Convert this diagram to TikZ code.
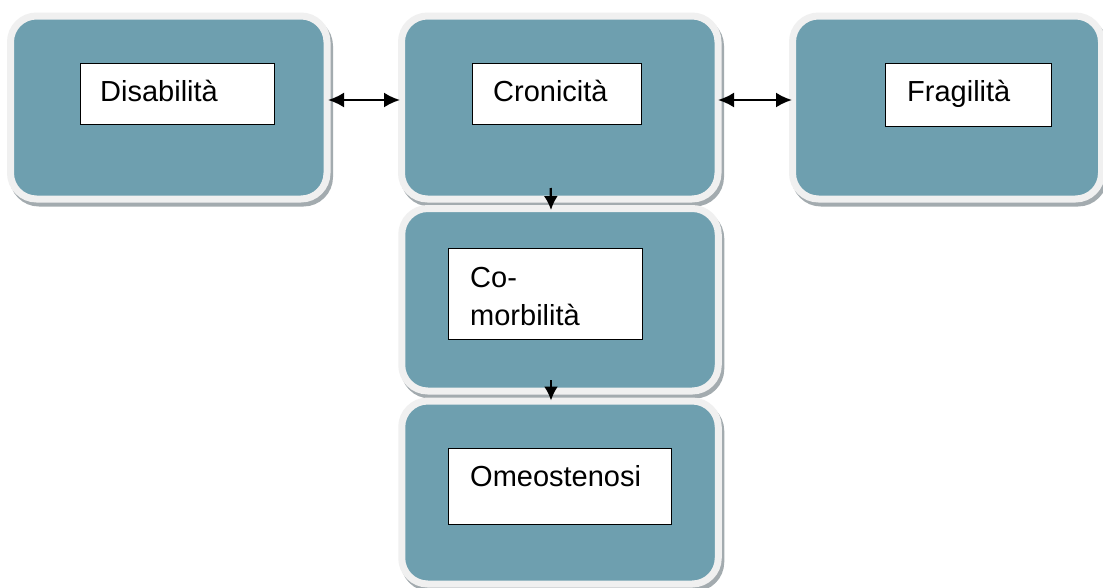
\documentclass[tikz,border=0pt]{standalone}
\usepackage{fontspec}
\setmainfont{Liberation Sans}
\usetikzlibrary{shadows,arrows.meta}
\definecolor{tealbox}{HTML}{6E9FAF}
\definecolor{rim}{HTML}{F0F0F0}
\definecolor{shade}{HTML}{A3ABAF}
\tikzset{
  outerbox/.style={rectangle, rounded corners=26pt, fill=tealbox, draw=rim, line width=7pt,
    minimum width=316.5pt, minimum height=183pt, inner sep=0pt,
    general shadow={shadow xshift=2.5pt, shadow yshift=-4pt, fill=shade, draw=shade, line width=7pt}},
  inbox/.style={rectangle, draw=black, fill=white, line width=1.3pt, inner sep=0pt, anchor=north west},
  lbl/.style={anchor=base west, inner sep=0pt, font=\fontsize{29}{38}\selectfont, align=left},
  conn/.style={line width=2.2pt, black}
}
\begin{document}
\begin{tikzpicture}[x=1pt,y=-1pt]
\useasboundingbox[fill=white] (0,0) rectangle (1103,587);
% outer boxes
\node[outerbox] (dis) at (168.75,107.5) {};
\node[outerbox] (cro) at (559.75,107.5) {};
\node[outerbox, minimum width=309pt] (fra) at (947,107.5) {};
\node[outerbox, minimum height=182.5pt] (com) at (560,299.75) {};
\node[outerbox] (ome) at (560,492.5) {};
% inner boxes
\node[inbox, minimum width=194pt, minimum height=61pt] (disb) at (80,63) {};
\node[lbl] (dist) at (100,101) {Disabilità};
\node[inbox, minimum width=169pt, minimum height=61pt] (crob) at (472,63) {};
\node[lbl] (crot) at (493,101) {Cronicità};
\node[inbox, minimum width=166pt, minimum height=63pt] (frab) at (885,63) {};
\node[lbl] (frat) at (907,101) {Fragilità};
\node[inbox, minimum width=194pt, minimum height=91pt] (comb) at (448,248) {};
\node[lbl] (comt) at (470,325) {Co-\\morbilità};
\node[inbox, minimum width=223pt, minimum height=76pt] (omeb) at (448,448) {};
\node[lbl] (omet) at (470,486) {Omeostenosi};
% connectors
\draw[conn, {Latex[length=16pt,width=15pt]}-{Latex[length=16pt,width=15pt]}]
  ([xshift=-2.5pt,yshift=7.5pt]dis.east) -- ([xshift=2pt,yshift=7.5pt]cro.west);
\draw[conn, {Latex[length=16pt,width=15pt]}-{Latex[length=16pt,width=15pt]}]
  ([xshift=-3.5pt,yshift=7.5pt]cro.east) -- ([xshift=3pt,yshift=7.5pt]fra.west);
\draw[conn, -{Latex[length=14pt,width=14pt]}]
  ([xshift=-9pt,yshift=14.5pt]cro.south) -- ([xshift=-9pt,yshift=-5pt]com.north);
\draw[conn, -{Latex[length=14pt,width=14pt]}]
  ([xshift=-9pt,yshift=14.5pt]com.south) -- ([xshift=-9pt,yshift=-3pt]ome.north);
\end{tikzpicture}
\end{document}
